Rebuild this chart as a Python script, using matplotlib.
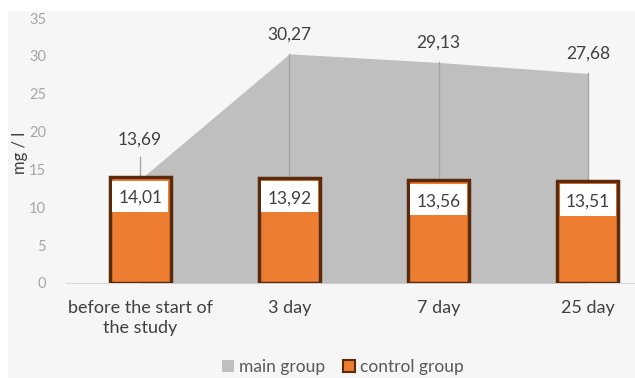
import matplotlib.pyplot as plt
import matplotlib.patches as mpatches
import numpy as np

plt.rcParams['font.family'] = ['Lato', 'DejaVu Sans']

categories = ["before the start of\nthe study", "3 day", "7 day", "25 day"]
main_group = [13.69, 30.27, 29.13, 27.68]
control_group = [14.01, 13.92, 13.56, 13.51]
main_labels = ["13,69", "30,27", "29,13", "27,68"]
control_labels = ["14,01", "13,92", "13,56", "13,51"]

x = np.arange(len(categories))
ctrl = np.array(control_group)

fig = plt.figure(figsize=(6.35, 3.78), dpi=100)
fig.patch.set_facecolor("white")
fig.patches.append(mpatches.Rectangle((8 / 635, 0), 1, 1 - 11 / 378,
                                      transform=fig.transFigure,
                                      facecolor="#f6f6f6", edgecolor="none", zorder=-10))

ax = fig.add_axes([65.5 / 635, 95 / 378, 597 / 635, 265 / 378])
ax.set_facecolor("none")

# main group as area
ax.fill_between(x, main_group, 0, color="#bfbfbf", zorder=1, linewidth=0)
for i, v in enumerate(main_group):
    if i == 0:
        ax.plot([x[i], x[i]], [v, v + 3.0], color="#a6a6a6", lw=1, zorder=1.5)
    else:
        ax.plot([x[i], x[i]], [0, v], color="#a6a6a6", lw=1, zorder=1.5)

# control group as bars
ax.bar(x, control_group, width=0.41, color="#ed7d31", edgecolor="#5a2a0c",
       linewidth=2.5, zorder=2)
# white label boxes inside the bars
ax.bar(x, 4.1, bottom=ctrl - 4.6, width=0.41 * 0.92, color="white", zorder=2.5)

for i, v in enumerate(control_group):
    ax.text(x[i], v - 2.8, control_labels[i], ha="center", va="center",
            fontsize=12.5, color="#404040", zorder=3)

for i, v in enumerate(main_group):
    y = 18.9 if i == 0 else v + 2.6
    ax.text(x[i], y, main_labels[i], ha="center", va="center",
            fontsize=12.5, color="#404040", zorder=3)

ax.set_xlim(-0.5, 3.5)
ax.set_ylim(0, 35)
ax.set_yticks(range(0, 36, 5))
ax.set_xticks(x)
ax.set_xticklabels(categories, fontsize=13, color="#404040", linespacing=1.35)
ax.tick_params(axis="y", length=0, pad=14, labelsize=10.5, labelcolor="#a6a6a6")
ax.tick_params(axis="x", length=0, pad=12)
for s in ["top", "right", "left"]:
    ax.spines[s].set_visible(False)
ax.spines["bottom"].set_color("#d9d9d9")
ax.spines["bottom"].set_zorder(0.5)

fig.text(20 / 635, 1 - 153 / 378, "mg / l", rotation=90, ha="center", va="center",
         fontsize=12, color="#404040")

handles = [mpatches.Patch(facecolor="#bfbfbf", edgecolor="none", label="main group"),
           mpatches.Patch(facecolor="#ed7d31", edgecolor="#5a2a0c", linewidth=1.5,
                          label="control group")]
fig.legend(handles=handles, loc="center", bbox_to_anchor=(343 / 635, 1 - 367 / 378),
           ncol=2, frameon=False, fontsize=12.5, labelcolor="#595959",
           handlelength=0.7, handleheight=0.7, handletextpad=0.3, columnspacing=1.0)

fig.savefig("out.png", dpi=100)
